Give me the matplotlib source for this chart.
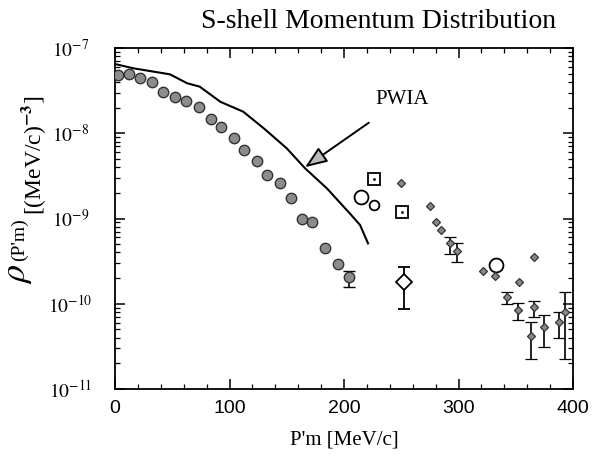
import matplotlib
matplotlib.use("Agg")
import matplotlib.pyplot as plt
import numpy as np
from matplotlib.ticker import LogLocator, MultipleLocator

plt.rcParams['mathtext.fontset'] = 'stix'
plt.rcParams['font.serif'] = ['Liberation Serif', 'DejaVu Serif']

# filled circles (s-shell data)
circ_x = [3, 12, 22, 32, 42, 52, 62, 73, 84, 93, 104, 113, 124, 133, 144, 154, 163, 172, 183, 195]
circ_y = [4.82e-8, 4.9e-8, 4.49e-8, 3.97e-8, 3.07e-8, 2.64e-8, 2.41e-8, 2.05e-8, 1.47e-8, 1.17e-8,
          8.87e-9, 6.37e-9, 4.72e-9, 3.24e-9, 2.64e-9, 1.76e-9, 9.97e-10, 9.17e-10, 4.47e-10, 2.92e-10]
circ_err_x = [204]
circ_err_y = [2.04e-10]
circ_err_lo = [1.58e-10]
circ_err_hi = [2.44e-10]

# PWIA curve
pwia_x = [0, 16, 48, 63, 74, 92, 112, 130, 150, 166, 185, 205, 214, 221]
pwia_y = [6.49e-8, 5.78e-8, 4.91e-8, 3.86e-8, 3.52e-8, 2.34e-8, 1.79e-8, 1.14e-8, 6.65e-9,
          3.88e-9, 2.26e-9, 1.15e-9, 8.4e-10, 5.1e-10]

# open circles
ocirc_x = [215, 333]
ocirc_y = [1.80e-9, 2.85e-10]
ocirc_small_x = [226]
ocirc_small_y = [1.44e-9]

# open squares
sq_x = [226, 251]
sq_y = [2.88e-9, 1.20e-9]

# open diamond with error bar
odia_x = [252]
odia_y = [1.82e-10]
odia_lo = [8.6e-11]
odia_hi = [2.72e-10]

# small filled diamonds
dia_x = [250, 275, 280, 285, 321, 332, 353, 366]
dia_y = [2.59e-9, 1.41e-9, 9.0e-10, 7.3e-10, 2.42e-10, 2.12e-10, 1.79e-10, 3.56e-10]

# small diamonds with error bars
diae_x = [293, 299, 342, 352, 366, 363, 375, 388, 393]
diae_y = [5.12e-10, 4.19e-10, 1.21e-10, 8.45e-11, 9.23e-11, 4.22e-11, 5.38e-11, 6.05e-11, 8.07e-11]
diae_lo = [3.84e-10, 3.11e-10, 9.9e-11, 6.44e-11, 7.05e-11, 2.23e-11, 3.13e-11, 3.94e-11, 2.25e-11]
diae_hi = [6.01e-10, 5.12e-10, 1.39e-10, 1.03e-10, 1.09e-10, 6.15e-11, 7.31e-11, 8.07e-11, 1.36e-10]

ytick_vals = [1e-11, 1e-10, 1e-9, 1e-8, 1e-7]
ytick_labels = [r'$10^{-11}$', r'$10^{-10}$', r'$10^{-9}$', r'$10^{-8}$', r'$10^{-7}$']

fig = plt.figure(figsize=(5.92, 4.63), dpi=100)
ax = fig.add_axes([115/592, 1-389/463, 458/592, 341/463])
ax.set_yscale('log')
ax.set_xlim(0, 400)
ax.set_ylim(1e-11, 1e-7)

ax.plot(pwia_x, pwia_y, color='black', lw=1.5, zorder=2)

ax.plot(circ_x, circ_y, 'o', ms=7.5, mfc='#8c8c8c', mec='#333333', mew=1.0, zorder=3)
ax.errorbar(circ_err_x, circ_err_y,
            yerr=[np.array(circ_err_y)-np.array(circ_err_lo), np.array(circ_err_hi)-np.array(circ_err_y)],
            fmt='o', ms=7.5, mfc='#8c8c8c', mec='#333333', mew=1.0, ecolor='black', elinewidth=1.2,
            capsize=4, capthick=1.2, zorder=3)

ax.plot(ocirc_x, ocirc_y, 'o', ms=10, mfc='white', mec='black', mew=1.3, zorder=3)
ax.plot(ocirc_small_x, ocirc_small_y, 'o', ms=7, mfc='white', mec='black', mew=1.3, zorder=3)
ax.plot(sq_x, sq_y, 's', ms=9, mfc='white', mec='black', mew=1.3, zorder=3)
ax.plot(sq_x, sq_y, '.', ms=2, color='black', zorder=4)

ax.errorbar(odia_x, odia_y,
            yerr=[np.array(odia_y)-np.array(odia_lo), np.array(odia_hi)-np.array(odia_y)],
            fmt='D', ms=8, mfc='white', mec='black', mew=1.3, ecolor='black', elinewidth=1.3,
            capsize=4, capthick=1.2, zorder=3)

ax.plot(dia_x, dia_y, 'D', ms=4.5, mfc='#888888', mec='#333333', mew=0.9, zorder=3)
ax.errorbar(diae_x, diae_y,
            yerr=[np.array(diae_y)-np.array(diae_lo), np.array(diae_hi)-np.array(diae_y)],
            fmt='D', ms=4.5, mfc='#888888', mec='#333333', mew=0.9, ecolor='black', elinewidth=1.2,
            capsize=4, capthick=1.2, zorder=3)

ax.annotate('PWIA', xy=(166, 4.0e-9), xytext=(251, 2.5e-8), fontsize=15,
            family='serif', ha='center', va='center',
            arrowprops=dict(arrowstyle='-|>,head_length=0.9,head_width=0.35', lw=1.4,
                            fc='#bbbbbb', ec='black', shrinkA=14, shrinkB=0))

# ticks
ax.xaxis.set_major_locator(MultipleLocator(100))
ax.xaxis.set_minor_locator(MultipleLocator(20))
ax.yaxis.set_major_locator(LogLocator(base=10, numticks=10))
ax.yaxis.set_minor_locator(LogLocator(base=10, subs=np.arange(2, 10), numticks=10))
ax.tick_params(which='both', direction='in', top=True, right=True)
ax.tick_params(which='major', length=7, width=1.1)
ax.tick_params(which='minor', length=3.5, width=0.9)
ax.tick_params(axis='x', which='major', labelsize=14, pad=8)
for lab in ax.get_xticklabels():
    lab.set_family('Liberation Sans')
ax.set_yticks(ytick_vals)
ax.set_yticklabels(ytick_labels)
ax.tick_params(axis='y', which='major', labelsize=14, pad=32)
for lab in ax.get_yticklabels():
    lab.set_horizontalalignment('center')
for sp in ax.spines.values():
    sp.set_linewidth(1.3)

ax.set_xlabel("P'm [MeV/c]", family='serif', fontsize=15, labelpad=10)

# y label pieces (rotated)
fig.text(17/592, 1-274/463, r'$\rho$', fontsize=26, rotation=90, ha='center', va='center')
fig.text(19/592, 1-240/463, "(P'm)", family='serif', fontsize=14, rotation=90, ha='center', va='center')
fig.text(34/592, 1-155/463, r"[(MeV/c)$^{\mathbf{-3}}$]", family='serif', fontsize=17, rotation=90,
         ha='center', va='center')

fig.text(379/592, 1-22/463, 'S-shell Momentum Distribution', family='serif', fontsize=20,
         ha='center', va='center')

fig.savefig('out.png', dpi=100)
